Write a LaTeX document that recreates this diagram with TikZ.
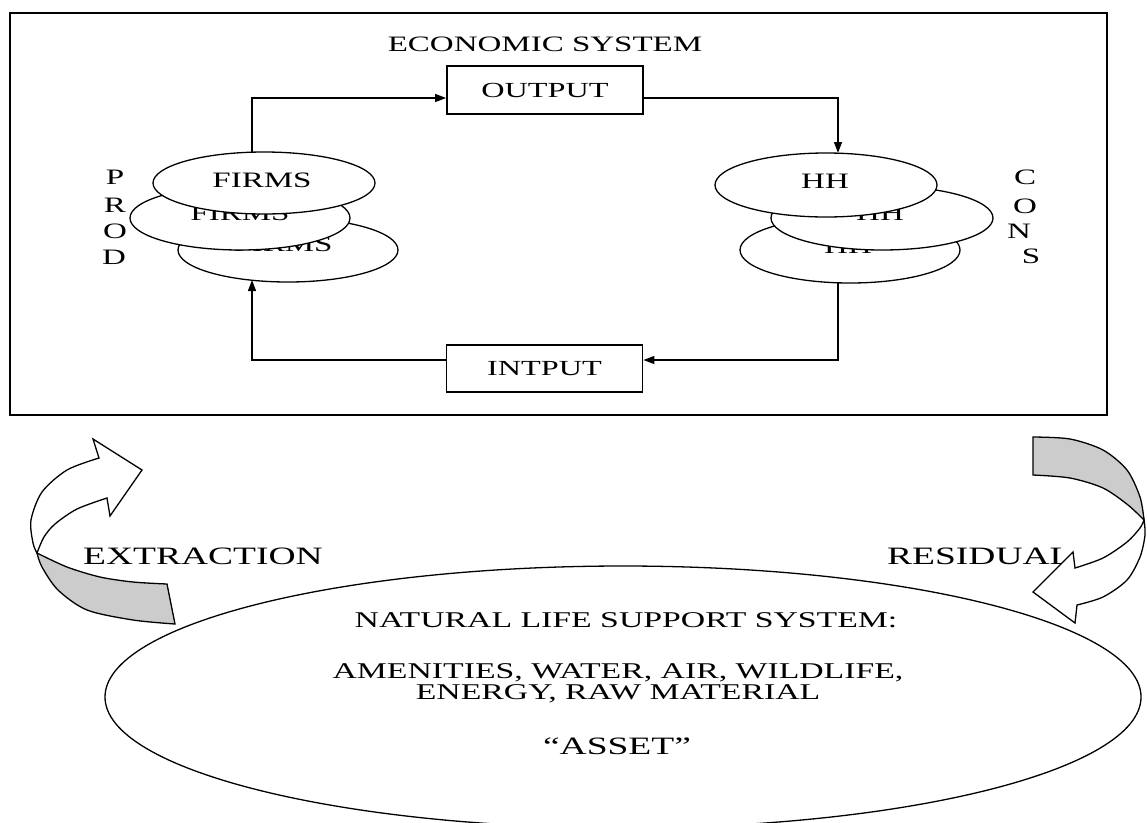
\documentclass[tikz,border=0pt]{standalone}
\usepackage{fontspec}
\usepackage{graphicx}
\setmainfont{Liberation Serif}
\usetikzlibrary{shapes.geometric,arrows.meta}
\definecolor{backgray}{RGB}{204,204,204}
\newcommand{\wx}[1]{\scalebox{1.5}[1]{#1}}
\begin{document}
\begin{tikzpicture}[x=1pt,y=-1pt,
  lw/.style={line width=1.3pt},
  lbl/.style={inner sep=0pt, font=\fontsize{22}{24}\selectfont},
  big/.style={inner sep=0pt, font=\fontsize{22.5}{24}\selectfont},
  ell/.style={ellipse, draw, line width=1.3pt, fill=white, inner sep=0pt, minimum width=222pt, minimum height=64pt},
  boxn/.style={draw, line width=1.8pt, fill=white, inner sep=0pt, minimum width=196pt, minimum height=48pt, font=\fontsize{21.5}{24}\selectfont},
  conn/.style={line width=1.3pt, -{Triangle[length=11pt,width=8pt]}},
  ]
\useasboundingbox (0,0) rectangle (1147,822);

% economic system frame
\node[draw, line width=1.3pt, minimum width=1097pt, minimum height=402pt, inner sep=0pt] (sys) at (558.5,214) {};
\node[lbl] (title) at (545,44) {\wx{ECONOMIC SYSTEM}};

\node[boxn] (out) at (545,90) {\wx{OUTPUT}};
\node[boxn, minimum height=47pt] (inp) at (544.5,368.5) {\wx{INTPUT}};

% firms stack
\node[ell, minimum width=220pt] (f3) at (288,250) {};
\node[lbl] (ft3) at (283,244) {\wx{FIRMS}};
\node[ell, minimum width=220pt] (f2) at (240,218) {};
\node[lbl] (ft2) at (240,213) {\wx{FIRMS}};
\node[ell, minimum height=62pt] (f1) at (264,183) {};
\node[lbl] (ft1) at (262,180) {\wx{FIRMS}};

% households stack
\node[ell, minimum width=220pt, minimum height=66pt] (h3) at (850,250) {};
\node[lbl] (ht3) at (848,246) {\wx{HH}};
\node[ell] (h2) at (882,218) {};
\node[lbl] (ht2) at (880,213) {\wx{HH}};
\node[ell] (h1) at (826,185) {};
\node[lbl] (ht1) at (825,181) {\wx{HH}};

% PROD / CONS
\node[lbl] (p1l) at (115,177) {\wx{P}};
\node[lbl] (p2l) at (115,205) {\wx{R}};
\node[lbl] (p3l) at (115,231) {\wx{O}};
\node[lbl] (p4l) at (114,257) {\wx{D}};
\node[lbl] (c1l) at (1025,177) {\wx{C}};
\node[lbl] (c2l) at (1025,206) {\wx{O}};
\node[lbl] (c3l) at (1019,231) {\wx{N}};
\node[lbl] (c4l) at (1031,256) {\wx{S}};

% connectors
\coordinate (fa) at (252,152);
\coordinate (hb) at (838,153);
\coordinate (hc) at (838,283);
\coordinate (fd) at (252,280);
\draw[conn] (fa) |- ([yshift=-8pt]out.west);
\draw[conn] ([yshift=-8pt]out.east) -| (hb);
\draw[conn] (hc) |- ([yshift=8.5pt]inp.east);
\draw[conn] ([yshift=8.5pt]inp.west) -| (fd);

% natural life support system
\node[ellipse, draw, line width=1.3pt, minimum width=1036pt, minimum height=262pt, inner sep=0pt] (nat) at (623,697) {};
\node[big] (n1) at (626,620) {\wx{NATURAL LIFE SUPPORT SYSTEM:}};
\node[big] (n2) at (618,673) {\wx{AMENITIES, WATER, AIR, WILDLIFE,}};
\node[big] (n3) at (618,694) {\wx{ENERGY, RAW MATERIAL}};
\node[inner sep=0pt, font=\fontsize{25}{27}\selectfont] (n4) at (617,746) {\wx{“ASSET”}};

% labels of the flows
\node[inner sep=0pt, font=\fontsize{25}{27}\selectfont] (ext) at (203,556) {\wx{EXTRACTION}};
\node[inner sep=0pt, font=\fontsize{25}{27}\selectfont, anchor=west] (res) at (887,556) {\wx{RESIDUAL}};

% extraction block arrow (left)
\filldraw[lw, fill=backgray] plot[smooth] coordinates {(37,553) (42,567) (58,590) (87,610) (133,620) (175,624)}
  -- (167,584) -- plot[smooth] coordinates {(167,584) (133,582) (100,577) (67,567) (37,553)} -- cycle;
\filldraw[lw, fill=white] plot[smooth] coordinates {(99,458) (67,470) (42,492) (31,520) (33,543) (37,553)}
  -- plot[smooth] coordinates {(37,553) (44,537) (55,524) (77,509) (107,498)}
  -- (110,516) -- (142,470) -- (93,439) -- cycle;

% residual block arrow (right)
\filldraw[lw, fill=backgray] (1033,437) -- plot[smooth] coordinates {(1033,437) (1070,439) (1103,450) (1127,470) (1140,497) (1144,520)}
  -- plot[smooth] coordinates {(1144,520) (1128,505) (1103,488) (1070,478) (1033,475)} -- cycle;
\filldraw[lw, fill=white] plot[smooth] coordinates {(1144,520) (1145,535) (1140,557) (1127,580) (1103,597) (1077,605)}
  -- (1075,623) -- (1033,592) -- (1073,552) -- (1075,568)
  -- plot[smooth] coordinates {(1075,568) (1103,558) (1127,542) (1140,528) (1144,520)} -- cycle;
\end{tikzpicture}
\end{document}
